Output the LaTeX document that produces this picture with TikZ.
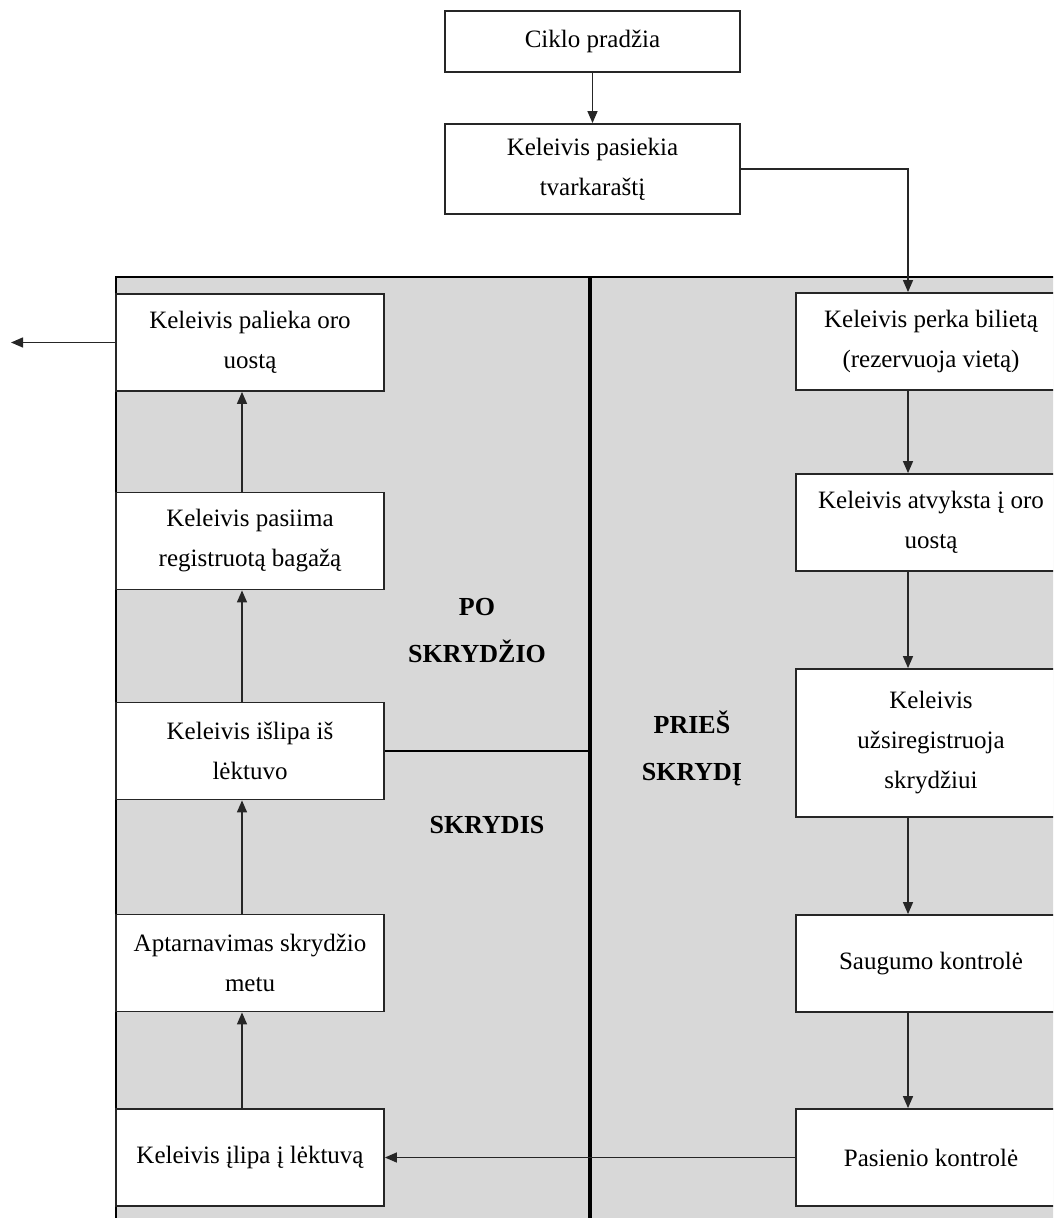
\documentclass[tikz,border=0pt]{standalone}
\usepackage{fontspec}
\setmainfont{Liberation Serif}
\usetikzlibrary{positioning, arrows.meta}
\definecolor{zonegray}{RGB}{216,216,216}

\begin{document}
\begin{tikzpicture}[x=0.5pt, y=-0.5pt,
>={Triangle[length=6pt, width=5pt]},
stepbox/.style={rectangle, draw=black!85, line width=0.9pt, fill=white, align=center, inner sep=2pt, font=\fontsize{12.5}{20}\selectfont},
lbox/.style={stepbox, minimum width=134pt, minimum height=48.5pt},
rbox/.style={stepbox, minimum width=135pt, minimum height=48.5pt},
topbox/.style={stepbox, minimum width=147.5pt},
zone/.style={align=center, font=\bfseries\fontsize{13}{23.5}\selectfont},
flow/.style={->, line width=0.7pt, draw=black!85},
]
\useasboundingbox (0,0) rectangle (1053,1218);
\clip (0,0) rectangle (1053,1218);

% background of the cycle
\fill[zonegray] (116,277) rectangle (1080,1240);
\draw[line width=0.9pt] (116,1240) -- (116,277) -- (1080,277);

\coordinate (divtop) at (590,277);
\coordinate (divbot) at (590,1240);
\coordinate (lx)     at (242,0);
\coordinate (rx)     at (908,0);
\coordinate (exit)   at (11,0);

\node[topbox, minimum height=30.5pt] (ciklo)    at (592.5,41.5) {Ciklo pradžia};
\node[topbox, minimum height=45pt]   (pasiekia) at (592.5,169)  {Keleivis pasiekia\\tvarkaraštį};

% prieš skrydį
\node[rbox]                          (perka)    at (931,341.5)  {Keleivis perka bilietą\\(rezervuoja vietą)};
\node[rbox]                          (atvyksta) at (931,522.5)  {Keleivis atvyksta į oro\\uostą};
\node[rbox, minimum height=74pt]     (registr)  at (931,743)    {Keleivis\\užsiregistruoja\\skrydžiui};
\node[rbox]                          (saugumo)  at (931,963.5)  {Saugumo kontrolė};
\node[rbox]                          (pasienio) at (931,1157.5) {Pasienio kontrolė};

% skrydis ir po skrydžio
\node[lbox]                          (ilipa)    at (250,1157.5) {Keleivis įlipa į lėktuvą};
\node[lbox]                          (aptarn)   at (250,963)    {Aptarnavimas skrydžio\\metu};
\node[lbox]                          (islipa)   at (250,751)    {Keleivis išlipa iš\\lėktuvo};
\node[lbox]                          (pasiima)  at (250,541)    {Keleivis pasiima\\registruotą bagažą};
\node[lbox]                          (palieka)  at (250,342.5)  {Keleivis palieka oro\\uostą};

\node[zone] (po)     at (477,631) {PO\\SKRYDŽIO};
\node[zone] (skr)    at (487,825) {SKRYDIS};
\node[zone] (pries)  at (692,748) {PRIEŠ\\SKRYDĮ};

\draw[line width=1.6pt] (divtop) -- (divbot);
\draw[line width=1.3pt] (islipa.east) -- (islipa.east -| divtop);

\draw[flow] (ciklo) -- (pasiekia);
\draw[flow] (pasiekia.east) -| (rx |- perka.north);

\draw[flow] (perka.south -| rx)    -- (atvyksta.north -| rx);
\draw[flow] (atvyksta.south -| rx) -- (registr.north -| rx);
\draw[flow] (registr.south -| rx)  -- (saugumo.north -| rx);
\draw[flow] (saugumo.south -| rx)  -- (pasienio.north -| rx);

\draw[flow] (pasienio.west) -- (ilipa.east);

\draw[flow] (ilipa.north -| lx)   -- (aptarn.south -| lx);
\draw[flow] (aptarn.north -| lx)  -- (islipa.south -| lx);
\draw[flow] (islipa.north -| lx)  -- (pasiima.south -| lx);
\draw[flow] (pasiima.north -| lx) -- (palieka.south -| lx);
\draw[flow] (palieka.west) -- (palieka.west -| exit);

\end{tikzpicture}
\end{document}
